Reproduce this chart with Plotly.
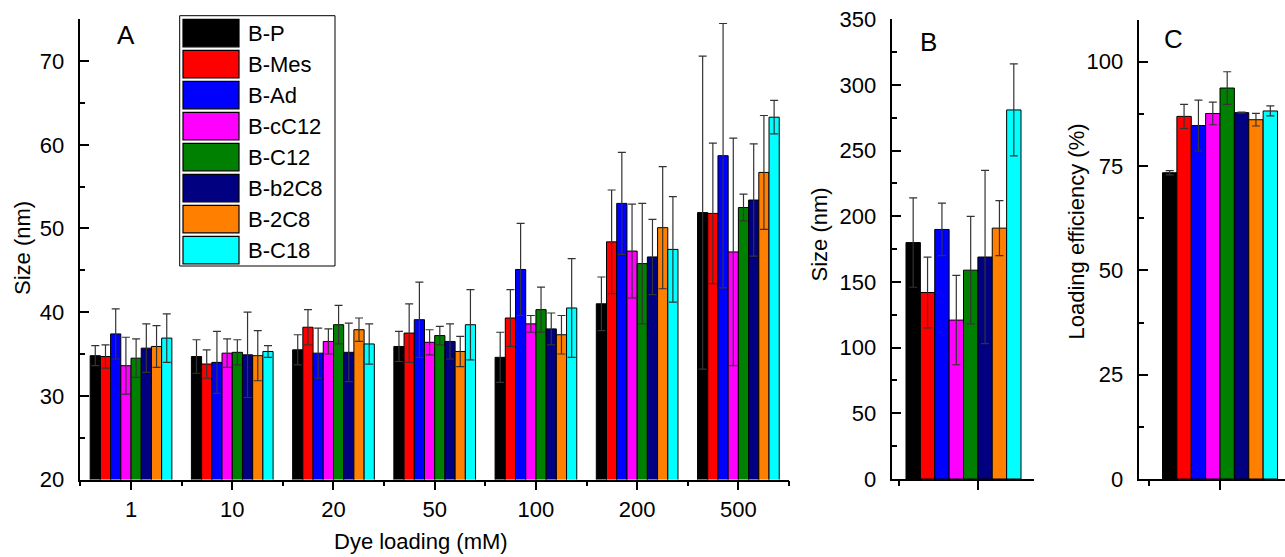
import plotly.graph_objects as go

# ---------------- data ----------------
series = ["B-P", "B-Mes", "B-Ad", "B-cC12", "B-C12", "B-b2C8", "B-2C8", "B-C18"]
colors = ["#000000", "#FF0000", "#0000FF", "#FF00FF", "#008000", "#000080", "#FF8000", "#00FFFF"]
dye_loading = ["1", "10", "20", "50", "100", "200", "500"]

# Panel A: size (nm) per dye loading, one list per series
size_A = {
    "B-P":    [34.8, 34.7, 35.5, 35.9, 34.6, 41.0, 51.9],
    "B-Mes":  [34.7, 33.8, 38.2, 37.5, 39.3, 48.4, 51.8],
    "B-Ad":   [37.4, 34.0, 35.1, 39.1, 45.1, 53.0, 58.7],
    "B-cC12": [33.6, 35.1, 36.5, 36.4, 38.6, 47.3, 47.2],
    "B-C12":  [34.5, 35.2, 38.5, 37.2, 40.3, 45.8, 52.5],
    "B-b2C8": [35.7, 34.9, 35.2, 36.5, 38.0, 46.6, 53.4],
    "B-2C8":  [35.9, 34.8, 37.9, 35.3, 37.3, 50.1, 56.7],
    "B-C18":  [36.9, 35.3, 36.2, 38.5, 40.5, 47.5, 63.3],
}
err_A = {
    "B-P":    [1.2, 2.0, 1.8, 1.8, 3.0, 3.2, 18.7],
    "B-Mes":  [1.4, 1.7, 2.1, 3.5, 3.4, 6.2, 8.4],
    "B-Ad":   [3.0, 3.7, 3.0, 4.5, 5.5, 6.1, 15.8],
    "B-cC12": [3.4, 1.7, 1.5, 1.5, 1.0, 5.6, 13.6],
    "B-C12":  [2.3, 1.5, 2.3, 1.1, 2.7, 7.2, 1.6],
    "B-b2C8": [2.9, 5.1, 3.5, 2.1, 1.9, 4.5, 6.7],
    "B-2C8":  [2.5, 3.0, 1.4, 1.8, 2.3, 7.3, 6.8],
    "B-C18":  [2.9, 0.7, 2.4, 4.2, 5.9, 6.3, 2.0],
}

# Panel B: size (nm)
size_B = [180, 142, 190, 121, 159, 169, 191, 281]
err_B = [34, 27, 20, 34, 41, 66, 21, 35]

# Panel C: loading efficiency (%)
eff_C = [73.4, 86.9, 84.7, 87.6, 93.7, 87.8, 86.1, 88.2]
err_C = [0.5, 2.9, 6.1, 2.7, 3.9, 0.1, 1.5, 1.2]

# ---------------- layout helpers ----------------
W, H = 1285, 557
FONT = "Arial, Liberation Sans, sans-serif"
def fx(px):
    return px / W
def fy(py):
    return 1 - py / H

fig = go.Figure()

xpos = list(range(1, len(dye_loading) + 1))
for name, col in zip(series, colors):
    fig.add_trace(go.Bar(
        x=xpos, y=size_A[name], name=name, marker=dict(color=col, line=dict(color="#000", width=1)),
        error_y=dict(type="data", array=err_A[name], symmetric=True, color="#333", thickness=1.2, width=4),
        xaxis="x", yaxis="y", showlegend=False))

for i, (name, col) in enumerate(zip(series, colors)):
    fig.add_trace(go.Bar(
        x=[1], y=[size_B[i]], name=name, marker=dict(color=col, line=dict(color="#000", width=1)),
        error_y=dict(type="data", array=[err_B[i]], symmetric=True, color="#333", thickness=1.2, width=4),
        xaxis="x2", yaxis="y2", showlegend=False))
    fig.add_trace(go.Bar(
        x=[1], y=[eff_C[i]], name=name, marker=dict(color=col, line=dict(color="#000", width=1)),
        error_y=dict(type="data", array=[err_C[i]], symmetric=True, color="#333", thickness=1.2, width=4),
        xaxis="x3", yaxis="y3", showlegend=False))

axis_common = dict(showline=True, linecolor="#000", linewidth=1.5, showgrid=False, zeroline=False,
                   automargin=False,
                   tickcolor="#000", tickwidth=1.5, tickfont=dict(family=FONT, size=22, color="#000"))

y0 = fy(479.5)
fig.update_layout(
    width=W, height=H, margin=dict(l=0, r=0, t=0, b=0, pad=0, autoexpand=False),
    paper_bgcolor="white", plot_bgcolor="white",
    barmode="group", bargap=0.193, bargroupgap=0,
    font=dict(family=FONT, size=22, color="#000"),
    xaxis=dict(domain=[fx(80.4), fx(789)], range=[0.5, 7.5], tickvals=xpos, ticktext=dye_loading,
               ticks="outside", ticklen=9, ticklabelstandoff=0, anchor="y",
               minor=dict(tickvals=[0.5 + k for k in range(8)], ticks="outside", ticklen=5, tickcolor="#000", tickwidth=1.5),
               **axis_common),
    yaxis=dict(domain=[y0, fy(19.3)], range=[20, 75], tickvals=[20, 30, 40, 50, 60, 70],
               ticks="inside", ticklen=9, ticklabelstandoff=10, anchor="x",
               minor=dict(tickvals=[25, 35, 45, 55, 65, 75], ticks="inside", ticklen=5, tickcolor="#000", tickwidth=1.5),
               **axis_common),
    xaxis2=dict(domain=[fx(892.3), fx(1034)], range=[0.5004, 1.4947], tickvals=[1.0996], ticktext=[""],
                ticks="outside", ticklen=9, anchor="y2",
                minor=dict(tickvals=[0.5446], ticks="outside", ticklen=5, tickcolor="#000", tickwidth=1.5),
                **axis_common),
    yaxis2=dict(domain=[fy(479), fy(19.3)], range=[0, 350], tickvals=[0, 50, 100, 150, 200, 250, 300, 350],
                ticks="inside", ticklen=9, ticklabelstandoff=10, anchor="x2",
                minor=dict(tickvals=[25, 75, 125, 175, 225, 275, 325], ticks="inside", ticklen=5, tickcolor="#000", tickwidth=1.5),
                **axis_common),
    xaxis3=dict(domain=[fx(1139.3), fx(1285)], range=[0.4337, 1.456], tickvals=[1], ticktext=[""],
                ticks="outside", ticklen=9, anchor="y3",
                minor=dict(tickvals=[0.4997], ticks="outside", ticklen=5, tickcolor="#000", tickwidth=1.5),
                **axis_common),
    yaxis3=dict(domain=[fy(479), fy(20)], range=[0, 110], tickvals=[0, 25, 50, 75, 100],
                ticks="inside", ticklen=9, ticklabelstandoff=10, anchor="x3",
                minor=dict(tickvals=[12.5, 37.5, 62.5, 87.5], ticks="inside", ticklen=5, tickcolor="#000", tickwidth=1.5),
                **axis_common),
)

annots = []
def txt(x, y, s, size=22, angle=0, xanchor="center"):
    annots.append(dict(x=fx(x), y=fy(y), xref="paper", yref="paper", text=s, showarrow=False,
                       textangle=angle, xanchor=xanchor, yanchor="middle",
                       font=dict(family=FONT, size=size, color="#000")))

txt(125.5, 34.5, "A", size=26)
txt(928, 41.5, "B", size=26)
txt(1173.5, 39, "C", size=26)
txt(421, 541, "Dye loading (mM)")
txt(23, 248, "Size (nm)", angle=-90)
txt(819, 234.5, "Size (nm)", angle=-90)
txt(1076, 231.5, "Loading efficiency (%)", angle=-90)

# custom legend (large swatches as in the original)
shapes = [dict(type="rect", xref="paper", yref="paper", x0=fx(179.7), x1=fx(335), y0=fy(266), y1=fy(15.7),
               line=dict(color="#000", width=1), fillcolor="white", layer="above")]
for i, (name, col) in enumerate(zip(series, colors)):
    top = 19.3 + 31 * i
    shapes.append(dict(type="rect", xref="paper", yref="paper", x0=fx(183), x1=fx(239),
                       y0=fy(top + 27.5), y1=fy(top), line=dict(color="#000", width=1.2),
                       fillcolor=col, layer="above"))
    txt(246, top + 14, name, xanchor="left")

fig.update_layout(annotations=annots, shapes=shapes)
fig.write_html("out.html", config={"displayModeBar": False},
               post_script="document.body.style.margin='0';document.body.style.overflow='hidden';")
